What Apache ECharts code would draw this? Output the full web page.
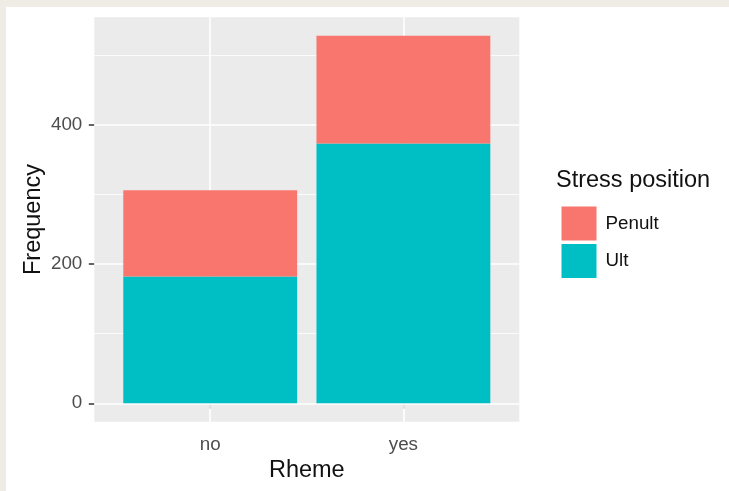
<!DOCTYPE html>
<html>
<head>
<meta charset="utf-8">
<script src="https://cdn.jsdelivr.net/npm/echarts@6/dist/echarts.min.js"></script>
<style>
  html, body { margin: 0; padding: 0; background: #efece6; }
  #chart { width: 729px; height: 491px; }
</style>
</head>
<body>
<div id="chart"></div>
<script>
// ---- data ----
const categories = ['no', 'yes'];
const ultValues = [182, 373];
const penultValues = [124, 155];
const yTicks = [0, 200, 400];
const yMinorTicks = [100, 300, 500];
const seriesNames = ['Penult', 'Ult'];
const legendTitle = 'Stress position';
const xTitle = 'Rheme';
const yTitle = 'Frequency';

// ---- layout ----
const gridLeft = 94.3, gridRight = 519.3, gridTop = 17.3, gridBottom = 421.7;
const xMin = 0.4, xMax = 2.6;
const gridW = gridRight - gridLeft;
const barWidth = 0.9 * gridW / (xMax - xMin);
const xPos = categories.map((c, i) => i + 1);

const chart = echarts.init(document.getElementById('chart'), null, { renderer: 'canvas' });
const font = 'Liberation Sans, Arial, sans-serif';

const gridLines = [
  ...yTicks.map(v => ({ yAxis: v, lineStyle: { width: 1.6 } })),
  ...yMinorTicks.map(v => ({ yAxis: v, lineStyle: { width: 0.8 } })),
  ...xPos.map(v => ({ xAxis: v, lineStyle: { width: 1.6 } }))
];

chart.setOption({
  backgroundColor: '#efece6',
  animation: false,
  textStyle: { fontFamily: font },
  graphic: [
    { type: 'rect', z: -10, silent: true,
      shape: { x: 6, y: 7, width: 723, height: 484 }, style: { fill: '#ffffff' } },
    { type: 'text', left: 556, top: 169, silent: true,
      style: { text: legendTitle, fontSize: 23.5, fontFamily: font, fill: '#111' } }
  ],
  grid: {
    left: gridLeft, top: gridTop,
    right: 729 - gridRight, bottom: 491 - gridBottom,
    show: true, backgroundColor: '#ebebeb', borderWidth: 0,
    containLabel: false
  },
  legend: {
    data: seriesNames,
    orient: 'vertical',
    left: 556.5, top: 201.5,
    itemWidth: 35, itemHeight: 34, itemGap: 3.5,
    icon: 'rect',
    selectedMode: false,
    textStyle: { fontSize: 18.8, color: '#111', fontFamily: font, padding: [0, 0, 0, 4] }
  },
  xAxis: {
    type: 'value', min: xMin, max: xMax,
    name: xTitle, nameLocation: 'middle', nameGap: 37, nameMoveOverlap: false,
    nameTextStyle: { fontSize: 23.5, color: '#111', fontFamily: font },
    axisLine: { show: false },
    splitLine: { show: false },
    axisTick: { show: true, length: 5.5, customValues: xPos, lineStyle: { color: '#333', width: 1.5 } },
    axisLabel: { customValues: xPos, margin: 14, fontSize: 18.8, color: '#4d4d4d', fontFamily: font,
      formatter: v => categories[Math.round(v) - 1] }
  },
  yAxis: {
    type: 'value', min: -26.4, max: 554.4,
    name: yTitle, nameLocation: 'middle', nameGap: 49, nameMoveOverlap: false,
    nameTextStyle: { fontSize: 23.5, color: '#111', fontFamily: font },
    axisLine: { show: false },
    splitLine: { show: false },
    axisTick: { show: true, length: 5.5, customValues: yTicks, lineStyle: { color: '#333', width: 1.5 } },
    axisLabel: { customValues: yTicks, margin: 12, fontSize: 18.8, color: '#4d4d4d', fontFamily: font }
  },
  series: [
    {
      name: 'gridlines', type: 'line', data: [], z: 1, silent: true,
      markLine: {
        z: 1, silent: true, symbol: ['none', 'none'], label: { show: false },
        lineStyle: { type: 'solid', color: '#ffffff' },
        emphasis: { disabled: true },
        data: gridLines
      }
    },
    {
      name: seriesNames[1], type: 'bar', stack: 'total', z: 3,
      barWidth: barWidth,
      encode: { x: 1, y: 0 },
      itemStyle: { color: '#00bfc4' },
      emphasis: { disabled: true },
      data: ultValues.map((v, i) => [v, xPos[i]])
    },
    {
      name: seriesNames[0], type: 'bar', stack: 'total', z: 3,
      barWidth: barWidth,
      encode: { x: 1, y: 0 },
      itemStyle: { color: '#f8766d' },
      emphasis: { disabled: true },
      data: penultValues.map((v, i) => [v, xPos[i]])
    }
  ]
});
</script>
</body>
</html>
